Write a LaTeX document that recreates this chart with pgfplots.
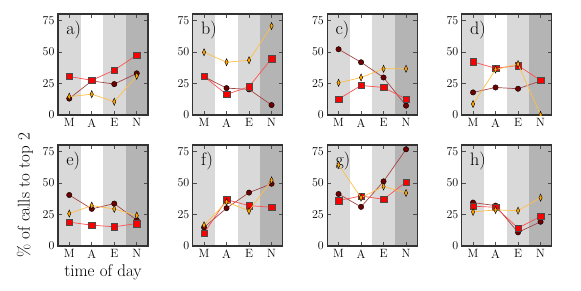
\documentclass[border=0pt]{standalone}
\usepackage{fontspec}
\usepackage{pgfplots}
\pgfplotsset{compat=1.18}

\definecolor{cdark}{RGB}{110,0,0}
\definecolor{cdarkline}{RGB}{165,70,70}
\definecolor{cred}{RGB}{250,0,0}
\definecolor{credline}{RGB}{255,80,80}
\definecolor{corange}{RGB}{255,165,0}
\definecolor{corangeline}{RGB}{255,190,70}
\definecolor{bglight}{RGB}{217,217,217}
\definecolor{bgdark}{RGB}{180,180,180}

\pgfplotsset{
 panel/.style={scale only axis, width=90pt, height=101pt,
   xmin=-0.5, xmax=3.5, ymin=0, ymax=80,
   xtick={0,1,2,3}, xticklabels={M,A,E,N}, ytick={0,25,50,75},
   tick align=inside, major tick length=4pt,
   tick style={black!70, line width=0.6pt},
   axis line style={black!80, line width=1.2pt},
   tick label style={font=\fontsize{12}{14}\selectfont},
   /pgf/number format/assume math mode=true,
   set layers, clip marker paths=true, anchor=south west},
 sC/.style={color=cdarkline, line width=0.7pt, mark=*, mark size=2.7pt,
   mark options={fill=cdark, draw=black, line width=0.4pt}},
 sS/.style={color=credline, line width=0.7pt, mark=square*, mark size=3.2pt,
   mark options={fill=cred, draw=black!70, line width=0.4pt}},
 sD/.style={color=corangeline, line width=0.7pt, mark=diamond*, mark size=3.6pt,
   mark options={fill=corange, draw=black, line width=0.4pt, xscale=0.6}},
}

\newcommand{\bg}{%
 \begin{pgfonlayer}{axis background}
 \fill[bglight] (axis cs:-0.5,0) rectangle (axis cs:0.5,80);
 \fill[bglight] (axis cs:1.5,0) rectangle (axis cs:2.5,80);
 \fill[bgdark] (axis cs:2.5,0) rectangle (axis cs:3.5,80);
 \end{pgfonlayer}}
\newcommand{\plab}[1]{\node[anchor=north west, inner sep=0pt, font=\fontsize{18}{20}\selectfont] at (rel axis cs:0.09,0.935) {#1};}

\begin{document}
\begin{tikzpicture}

% a
\begin{axis}[panel, at={(58pt,175pt)}]
\bg
\addplot[sC] coordinates {(0,13) (1,27) (2,24.5) (3,33)};
\addplot[sS] coordinates {(0,30.5) (1,27.5) (2,35.5) (3,47.5)};
\addplot[sD] coordinates {(0,14.5) (1,16.5) (2,10.5) (3,31)};
\plab{a)}
\end{axis}
% b
\begin{axis}[panel, at={(192.8pt,175pt)}]
\bg
\addplot[sC] coordinates {(0,30.3) (1,21.3) (2,20.3) (3,7.9)};
\addplot[sS] coordinates {(0,30.5) (1,16.3) (2,22.4) (3,44.7)};
\addplot[sD] coordinates {(0,49.7) (1,41.8) (2,43.4) (3,70.5)};
\plab{b)}
\end{axis}
% c
\begin{axis}[panel, at={(327.3pt,175pt)}]
\bg
\addplot[sC] coordinates {(0,52.1) (1,41.8) (2,29.7) (3,7.4)};
\addplot[sS] coordinates {(0,12.6) (1,23.4) (2,21.8) (3,12.6)};
\addplot[sD] coordinates {(0,25.5) (1,29.7) (2,36.6) (3,36.6)};
\plab{c)}
\end{axis}
% d
\begin{axis}[panel, at={(461.8pt,175pt)}]
\bg
\addplot[sC] coordinates {(0,17.9) (1,21.8) (2,20.8) (3,27)};
\addplot[sS] coordinates {(0,42.1) (1,37) (2,39.2) (3,27.4)};
\addplot[sD] coordinates {(0,8.7) (1,36) (2,40.3) (3,0)};
\plab{d)}
\end{axis}
% e
\begin{axis}[panel, at={(58pt,44pt)},
  xlabel={time of day}, ylabel={\% of calls to top 2},
  label style={font=\fontsize{17}{19}\selectfont},
  xlabel style={at={(axis description cs:0.5,-0.257)}, anchor=center},
  ylabel style={at={(axis description cs:-0.367,0.5)}, anchor=center}]
\bg
\addplot[sC] coordinates {(0,40.4) (1,29.4) (2,33.6) (3,20.5)};
\addplot[sS] coordinates {(0,18.9) (1,16.5) (2,15.2) (3,17.8)};
\addplot[sD] coordinates {(0,25.7) (1,32) (2,29.4) (3,24.1)};
\plab{e)}
\end{axis}
% f
\begin{axis}[panel, at={(192.8pt,44pt)}]
\bg
\addplot[sC] coordinates {(0,14.7) (1,30) (2,42.3) (3,49.3)};
\addplot[sS] coordinates {(0,10.2) (1,36.7) (2,32) (3,30.7)};
\addplot[sD] coordinates {(0,16.5) (1,34.9) (2,27.8) (3,52)};
\plab{f)}
\end{axis}
% g
\begin{axis}[panel, at={(327.3pt,44pt)}]
\bg
\plab{g)}
\addplot[sC] coordinates {(0,41.2) (1,31) (2,51.2) (3,76.6)};
\addplot[sS] coordinates {(0,36) (1,39.6) (2,37) (3,50.7)};
\addplot[sD] coordinates {(0,64.3) (1,38.3) (2,47.2) (3,42)};
\end{axis}
% h
\begin{axis}[panel, at={(461.8pt,44pt)}]
\bg
\addplot[sC] coordinates {(0,34.4) (1,32) (2,10.8) (3,19.2)};
\addplot[sS] coordinates {(0,31.5) (1,30.7) (2,14.2) (3,23.4)};
\addplot[sD] coordinates {(0,27) (1,28.6) (2,28) (3,38.3)};
\plab{h)}
\end{axis}
\pgfresetboundingbox
\useasboundingbox (0pt,0pt) rectangle (581pt,290pt);
\end{tikzpicture}
\end{document}
